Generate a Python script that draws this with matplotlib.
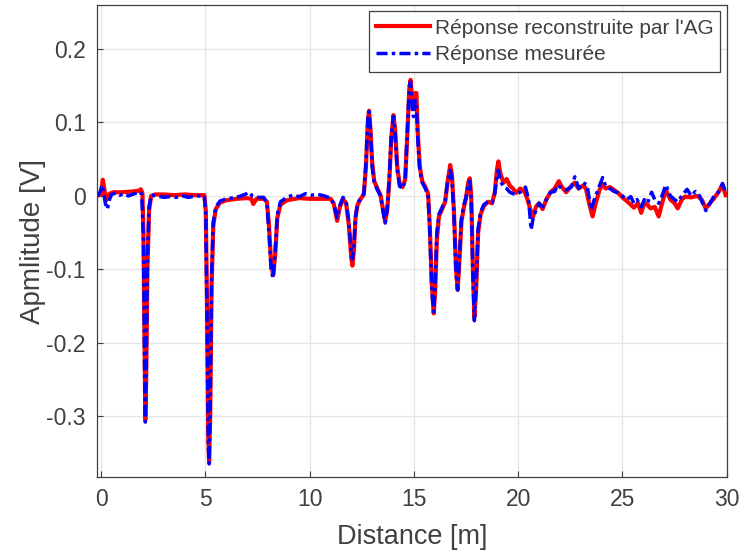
import matplotlib
matplotlib.use("Agg")
import matplotlib.pyplot as plt
import numpy as np

# Reconstructed response (GA) - red
dist_rec = [-0.2, 0.0, 0.08, 0.15, 0.25, 0.4, 0.6, 1.0, 1.5, 1.8, 1.9, 1.98, 2.03, 2.08, 2.12, 2.16,
            2.22, 2.3, 2.4, 2.6, 3.0, 3.5, 4.0, 4.5, 4.95, 5.02, 5.08, 5.14, 5.18, 5.23, 5.3, 5.38,
            5.5, 5.7, 6.0, 6.5, 7.0, 7.2, 7.3, 7.45, 7.8, 7.95, 8.05, 8.15, 8.25, 8.35, 8.45, 8.6,
            8.9, 9.5, 10.0, 10.5, 11.0, 11.15, 11.32, 11.45, 11.6, 11.75, 11.88, 12.0, 12.05, 12.12,
            12.2, 12.3, 12.45, 12.6, 12.7, 12.8, 12.85, 12.92, 13.0, 13.1, 13.25, 13.4, 13.5, 13.62,
            13.72, 13.82, 13.92, 14.02, 14.1, 14.2, 14.32, 14.45, 14.58, 14.68, 14.78, 14.84, 14.92,
            14.98, 15.06, 15.12, 15.18, 15.28, 15.4, 15.55, 15.68, 15.76, 15.86, 15.95, 16.02, 16.1,
            16.2, 16.35, 16.5, 16.62, 16.74, 16.82, 16.92, 17.02, 17.1, 17.18, 17.28, 17.4, 17.5,
            17.6, 17.68, 17.75, 17.83, 17.9, 17.98, 18.08, 18.2, 18.35, 18.55, 18.75, 18.88, 18.98,
            19.05, 19.15, 19.3, 19.45, 19.6, 19.75, 19.9, 20.1, 20.3, 20.45, 20.6, 20.72, 20.85,
            21.0, 21.17, 21.35, 21.55, 21.75, 21.95, 22.1, 22.3, 22.5, 22.7, 22.9, 23.1, 23.25,
            23.4, 23.57, 23.72, 23.9, 24.05, 24.2, 24.4, 24.6, 24.8, 25.0, 25.25, 25.4, 25.55,
            25.75, 25.9, 26.05, 26.2, 26.35, 26.55, 26.74, 26.9, 27.08, 27.3, 27.5, 27.65, 27.85,
            28.0, 28.3, 28.6, 28.8, 29.0, 29.2, 29.4, 29.6, 29.8, 29.95]
amp_rec = [0.0, 0.002, 0.022, 0.01, -0.006, 0.003, 0.005, 0.005, 0.006, 0.007, 0.009, 0.004, -0.05,
           -0.2, -0.305, -0.25, -0.1, -0.02, 0.0, 0.002, 0.002, 0.001, 0.002, 0.001, 0.001, -0.02,
           -0.15, -0.33, -0.362, -0.3, -0.12, -0.04, -0.018, -0.009, -0.006, -0.004, -0.003,
           -0.004, -0.011, -0.004, -0.004, -0.008, -0.04, -0.09, -0.108, -0.08, -0.03, -0.012,
           -0.006, -0.003, -0.004, -0.004, -0.004, -0.01, -0.034, -0.015, -0.004, -0.01, -0.04,
           -0.085, -0.095, -0.075, -0.03, -0.012, -0.004, 0.002, 0.04, 0.105, 0.116, 0.09, 0.045,
           0.02, 0.01, 0.001, -0.015, -0.035, -0.02, 0.02, 0.08, 0.11, 0.09, 0.04, 0.015, 0.012,
           0.022, 0.08, 0.145, 0.158, 0.13, 0.118, 0.14, 0.14, 0.09, 0.04, 0.02, 0.012, 0.003,
           -0.04, -0.12, -0.16, -0.13, -0.06, -0.028, -0.018, -0.008, 0.02, 0.042, 0.03, -0.02,
           -0.1, -0.128, -0.09, -0.035, -0.015, -0.003, 0.018, 0.024, 0.0, -0.1, -0.165, -0.13,
           -0.05, -0.025, -0.014, -0.008, -0.01, 0.005, 0.035, 0.047, 0.03, 0.018, 0.023, 0.014,
           0.01, 0.004, 0.01, 0.006, -0.005, -0.02, -0.028, -0.015, -0.01, -0.018, -0.005, 0.005,
           0.01, 0.02, 0.012, 0.005, 0.012, 0.018, 0.01, 0.014, 0.01, -0.01, -0.028, -0.01, 0.008,
           0.016, 0.01, 0.012, 0.008, 0.004, -0.002, -0.008, -0.012, -0.016, -0.01, -0.023, -0.01,
           -0.012, -0.017, -0.015, -0.028, -0.01, 0.008, -0.005, -0.01, -0.017, -0.005, -0.001,
           -0.002, 0.0, -0.005, -0.017, -0.01, -0.003, 0.005, 0.015, 0.001]

# Measured response - blue
dist_mes = [-0.2, -0.05, 0.05, 0.12, 0.2, 0.3, 0.4, 0.5, 0.7, 0.9, 1.1, 1.3, 1.5, 1.7, 1.85, 1.95,
            2.03, 2.08, 2.12, 2.16, 2.22, 2.3, 2.4, 2.7, 3.0, 3.3, 3.6, 3.9, 4.2, 4.5, 4.8, 4.95,
            5.02, 5.08, 5.14, 5.18, 5.23, 5.3, 5.38, 5.5, 5.7, 6.0, 6.5, 6.9, 7.1, 7.25, 7.45, 7.8,
            7.95, 8.05, 8.15, 8.25, 8.35, 8.45, 8.6, 8.9, 9.2, 9.5, 9.8, 10.1, 10.4, 10.7, 11.0,
            11.15, 11.32, 11.45, 11.6, 11.75, 11.88, 12.0, 12.05, 12.12, 12.2, 12.3, 12.45, 12.6,
            12.7, 12.8, 12.85, 12.92, 13.0, 13.1, 13.25, 13.4, 13.5, 13.62, 13.72, 13.82, 13.92,
            14.02, 14.1, 14.2, 14.32, 14.45, 14.58, 14.68, 14.78, 14.84, 14.92, 14.98, 15.06, 15.12,
            15.18, 15.28, 15.4, 15.55, 15.68, 15.76, 15.86, 15.95, 16.02, 16.1, 16.2, 16.35, 16.5,
            16.62, 16.74, 16.82, 16.92, 17.02, 17.1, 17.18, 17.28, 17.4, 17.5, 17.6, 17.68, 17.75,
            17.83, 17.9, 17.98, 18.08, 18.2, 18.35, 18.55, 18.75, 18.88, 18.98, 19.05, 19.15, 19.3,
            19.45, 19.6, 19.75, 19.9, 20.1, 20.35, 20.5, 20.62, 20.72, 20.85, 21.0, 21.17, 21.35,
            21.55, 21.75, 21.9, 22.1, 22.3, 22.55, 22.72, 22.9, 23.1, 23.3, 23.5, 23.65, 23.85,
            24.05, 24.2, 24.4, 24.6, 24.8, 25.0, 25.2, 25.4, 25.55, 25.7, 25.9, 26.05, 26.2, 26.4,
            26.55, 26.74, 26.9, 27.08, 27.3, 27.5, 27.65, 27.85, 28.1, 28.3, 28.5, 28.7, 29.0, 29.2,
            29.4, 29.6, 29.8, 29.95]
amp_mes = [0.0, 0.005, 0.015, 0.005, -0.01, -0.018, -0.005, 0.002, 0.004, 0.001, 0.003, 0.0, 0.002,
           0.004, 0.006, 0.002, -0.06, -0.22, -0.308, -0.24, -0.09, -0.015, 0.001, 0.0, -0.002,
           -0.001, -0.002, 0.0, -0.002, 0.0, 0.0, 0.0, -0.025, -0.17, -0.34, -0.365, -0.29, -0.11,
           -0.035, -0.015, -0.007, -0.004, -0.002, 0.002, 0.005, 0.0, -0.002, -0.002, -0.01, -0.05,
           -0.1, -0.112, -0.075, -0.025, -0.008, -0.002, 0.001, -0.001, 0.003, 0.001, 0.002, 0.0,
           -0.003, -0.01, -0.03, -0.013, -0.002, -0.008, -0.035, -0.078, -0.086, -0.07, -0.028,
           -0.01, -0.003, 0.003, 0.045, 0.11, 0.115, 0.085, 0.04, 0.018, 0.008, 0.0, -0.017, -0.037,
           -0.018, 0.025, 0.085, 0.108, 0.085, 0.035, 0.013, 0.01, 0.02, 0.085, 0.15, 0.155, 0.12,
           0.108, 0.13, 0.125, 0.08, 0.035, 0.018, 0.01, 0.001, -0.045, -0.13, -0.158, -0.12, -0.05,
           -0.025, -0.016, -0.007, 0.02, 0.035, 0.025, -0.025, -0.105, -0.128, -0.085, -0.03,
           -0.012, -0.002, 0.015, 0.02, -0.005, -0.11, -0.17, -0.125, -0.045, -0.022, -0.012,
           -0.008, -0.009, 0.003, 0.028, 0.035, 0.02, 0.012, 0.01, 0.005, 0.003, 0.002, 0.005,
           0.012, -0.005, -0.046, -0.03, -0.02, -0.01, -0.015, -0.005, 0.005, 0.006, 0.015, 0.01,
           0.008, 0.012, 0.026, 0.01, 0.018, 0.015, -0.019, -0.005, 0.01, 0.025, 0.013, 0.01, 0.006,
           0.004, 0.0, -0.005, -0.001, -0.01, -0.005, -0.015, -0.005, -0.01, 0.005, -0.005, -0.01,
           0.0, 0.015, 0.0, -0.005, -0.008, 0.0, 0.009, 0.0, 0.006, 0.0, -0.02, -0.01, 0.0, 0.005,
           0.017, 0.005]

plt.rcParams['font.family'] = ['Liberation Sans', 'DejaVu Sans']
txt = '#404040'

fig, ax = plt.subplots(figsize=(7.4, 5.51), dpi=100)
fig.subplots_adjust(left=0.131, right=0.982, top=0.991, bottom=0.134)

ax.plot(dist_rec, amp_rec, color='red', lw=3.0, solid_joinstyle='round',
        label="Réponse reconstruite par l'AG")
ax.plot(dist_mes, amp_mes, color='blue', lw=2.5, linestyle=(0, (3.2, 1.2, 1.0, 1.2)),
        label='Réponse mesurée')

ax.set_xlim(-0.2, 30)
ax.set_ylim(-0.383, 0.26)
ax.set_xticks(np.arange(0, 31, 5))
ax.set_yticks([-0.3, -0.2, -0.1, 0, 0.1, 0.2])
ax.set_yticklabels(['-0.3', '-0.2', '-0.1', '0', '0.1', '0.2'])
ax.grid(True, color='#e6e6e6', lw=1.0)
ax.set_axisbelow(True)
ax.tick_params(direction='in', length=4, colors=txt, labelsize=16.5, pad=8)
for s in ax.spines.values():
    s.set_color(txt)
    s.set_linewidth(0.9)

ax.set_xlabel('Distance [m]', fontsize=19.5, color=txt, labelpad=9)
ax.set_ylabel('Apmlitude [V]', fontsize=20, color=txt, labelpad=0)

leg = ax.legend(loc='upper right', fontsize=15, fancybox=False, framealpha=1,
                edgecolor=txt, borderaxespad=0.3, handlelength=2.6, handletextpad=0.2,
                labelspacing=0.38, borderpad=0.35)
leg.get_frame().set_linewidth(0.9)
for t in leg.get_texts():
    t.set_color(txt)

fig.savefig('out.png', dpi=100)
